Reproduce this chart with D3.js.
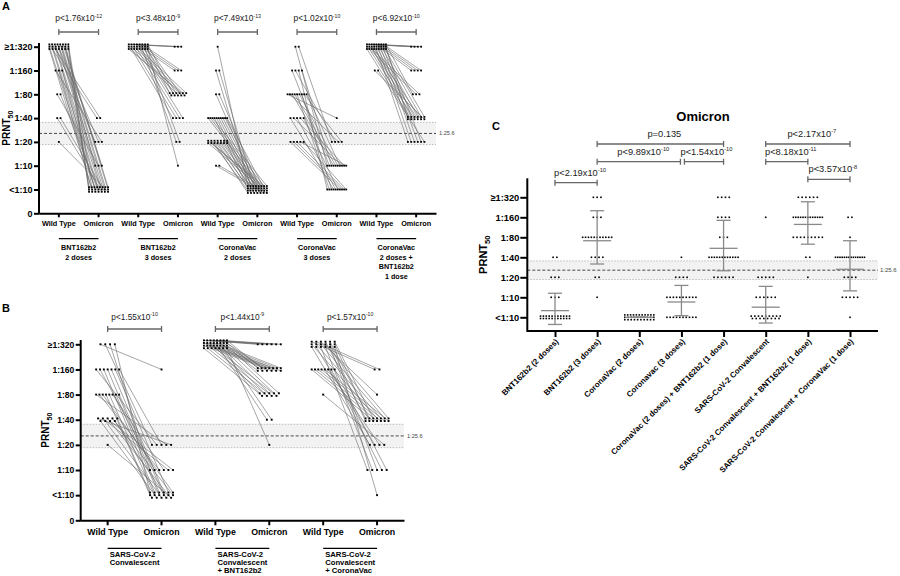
<!DOCTYPE html>
<html><head><meta charset="utf-8">
<script src="https://cdn.jsdelivr.net/npm/d3@7"></script>
<style>body{margin:0;background:#fff} svg{font-family:"Liberation Sans",Arial,Helvetica,sans-serif}</style>
</head><body><svg id="c" width="900" height="576"></svg>
<script>
// ---------- DATA ----------
const levelValues = [2.5,5,10,20,40,80,160,320];
const levelLabels = ["0","<1:10","1:10","1:20","1:40","1:80","1:160","≥1:320"];
const cutoff = 25.6, cutoffLow = 18.5, cutoffHigh = 35.3;
const conditionLabels = ["Wild Type","Omicron"];

const groupsA = [["BNT162b2","2 doses"],["BNT162b2","3 doses"],["CoronaVac","2 doses"],["CoronaVac","3 doses"],["CoronaVac","2 doses +","BNT162b2","1 dose"]];
const pValuesA = [["p<1.76x10","-12"],["p<3.48x10","-9"],["p<7.49x10","-13"],["p<1.02x10","-10"],["p<6.92x10","-10"]];
const groupsB = [["SARS-CoV-2","Convalescent"],["SARS-CoV-2","Convalescent","+ BNT162b2"],["SARS-CoV-2","Convalescent","+ CoronaVac"]];
const pValuesB = [["p<1.55x10","-10"],["p<1.44x10","-9"],["p<1.57x10","-10"]];

// paired titers (subject order), wild type vs omicron
const bnt2WT = [320,320,320,320,160,320,80,320,320,320,320,320,320,320,320,320,320,320,320,320,320,320,320,320,160,160,80,40,40,20];
const bnt2Om = [40,40,20,20,20,10,10,10,5,5,5,5,5,5,5,5,5,5,5,5,5,5,5,5,5,5,5,5,5,5];
const bnt3WT = [320,320,320,320,320,320,320,320,320,320,320,320,320,320,320,320,320,320,320,320,320,320,320,320];
const bnt3Om = [320,320,320,160,160,160,80,80,80,80,80,80,80,80,80,80,80,40,40,40,40,20,20,10];
const cv2WT = [320,160,160,80,80,40,40,40,40,40,40,40,40,40,40,20,20,20,20,20,20,20,20,20,20,20,20,20,20,10,10];
const cv2Om = [5,5,5,5,5,5,5,5,5,5,5,5,5,5,5,5,5,5,5,5,5,5,5,5,5,5,5,5,5,5,5];
const cv3WT = [320,320,160,160,160,160,80,80,80,80,80,80,80,80,80,40,40,40,40,40,20,20,20,20,20];
const cv3Om = [10,20,10,20,5,10,40,20,10,10,5,10,5,20,10,5,10,5,10,5,5,5,5,10,5];
const cvBntWT = [320,320,320,320,320,320,320,320,320,320,320,320,320,320,320,320,320,320,320,320,320,320,160,320,320,320,320,320,160];
const cvBntOm = [320,320,320,320,160,160,160,160,80,80,80,40,40,40,40,40,40,40,40,40,40,40,40,20,20,20,20,20,20];
const convWT = [320,320,320,320,160,160,160,160,160,160,160,80,80,80,80,80,80,80,80,40,40,40,40,40,40,40,40,40,20];
const convOm = [160,20,10,5,20,10,5,5,5,5,20,20,10,5,5,5,10,5,5,20,10,5,5,5,5,5,10,5,5];
const convBntWT = [320,320,320,320,320,320,320,320,320,320,320,320,320,320,320,320,320,320,320,320,320,320,320,320,320,320,320,320,320,320,320];
const convBntOm = [320,320,320,320,320,320,160,160,160,160,160,160,160,160,160,160,160,160,160,80,80,80,80,80,80,80,80,80,40,40,20];
const convCvWT = [320,320,320,320,320,320,320,320,320,320,320,320,320,320,320,320,320,320,160,160,160,160,160,160,160,160,80];
const convCvOm = [160,160,80,40,40,40,40,40,40,40,40,40,20,20,10,10,10,5,40,40,40,40,40,20,10,10,20];

// Panel C
const categoriesC = ["BNT162b2 (2 doses)","BNT162b2 (3 doses)","CoronaVac (2 doses)","Coronavac (3 doses)","CoronaVac (2 doses) + BNT162b2 (1 dose)","SARS-CoV-2 Convalescent","SARS-CoV-2 Convalescent + BNT162b2 (1 dose)","SARS-CoV-2 Convalescent + CoronaVac (1 dose)"];
const meanC = [6.3,71,5,8.5,54.6,7.1,125,26.4];
const lowC  = [3.9,31.7,5,5.3,25.1,4.1,63,12.5];
const highC = [11.5,201,5,15.1,144,14.6,274,71];
const compFromC = [0,1,3,1,5,5,6];
const compToC   = [1,3,4,4,7,6,7];
const compTextC = [["p<2.19x10","-10"],["p<9.89x10","-10"],["p<1.54x10","-10"],["p=0.135",""],["p<2.17x10","-7"],["p<8.18x10","-11"],["p<3.57x10","-8"]];

// ---------- DRAWING ----------
const svg = d3.select("#c");
const FONT = '"Liberation Sans",Arial,sans-serif';

function layoutDots(values, cx, y, o){
  const idx = values.map((v,i)=>({v,i}));
  const grp = d3.group(idx, d=>d.v);
  const pos = new Array(values.length);
  for (const [v, arr] of grp){
    const n = arr.length;
    const rows = Math.ceil(n/o.perRow);
    const base = Math.floor(n/rows), extra = n%rows;
    let k = 0;
    for (let r=0;r<rows;r++){
      const cnt = base + (r<extra?1:0);
      const s = cnt>1 ? Math.min(o.sp, o.maxW/(cnt-1)) : 0;
      const yy = y(v) + (r-(rows-1)/2)*o.rowGap;
      for (let j=0;j<cnt;j++){ pos[arr[k].i] = [cx + (j-(cnt-1)/2)*s, yy]; k++; }
    }
  }
  return pos;
}

function pText(g, x, y, parts, size, anchor){
  const t = g.append("text").attr("x",x).attr("y",y).attr("font-size",size).attr("text-anchor",anchor||"middle").attr("fill","#222");
  t.append("tspan").text(parts[0]);
  if (parts[1]) t.append("tspan").attr("dy",-size*0.4).attr("font-size",size*0.62).text(parts[1]);
  return t;
}

function bracket(g, x1, x2, y){
  g.append("line").attr("x1",x1).attr("x2",x2).attr("y1",y).attr("y2",y).attr("stroke","#666").attr("stroke-width",1.3);
  [x1,x2].forEach(x=>g.append("line").attr("x1",x).attr("x2",x).attr("y1",y-3).attr("y2",y+3).attr("stroke","#666").attr("stroke-width",1.3));
}

function cutoffBand(g, x0, x1, y, labelX, labelSize){
  g.append("rect").attr("x",x0).attr("width",x1-x0).attr("y",y(cutoffHigh)).attr("height",y(cutoffLow)-y(cutoffHigh)).attr("fill","#f2f2f2");
  [cutoffHigh,cutoffLow].forEach(v=>g.append("line").attr("x1",x0).attr("x2",x1).attr("y1",y(v)).attr("y2",y(v))
      .attr("stroke","#aaa").attr("stroke-width",0.8).attr("stroke-dasharray","1.5,1.5"));
  g.append("line").attr("x1",x0).attr("x2",x1).attr("y1",y(cutoff)).attr("y2",y(cutoff))
      .attr("stroke","#333").attr("stroke-width",0.9).attr("stroke-dasharray","3,2");
  g.append("text").attr("x",labelX).attr("y",y(cutoff)).attr("dy","0.35em").attr("font-size",labelSize).attr("fill","#444").text("1:25.6");
}

function prntLabel(g, x, y, size){
  const t = g.append("text").attr("transform",`translate(${x},${y}) rotate(-90)`).attr("text-anchor","middle")
    .attr("font-size",size).attr("font-weight","bold");
  t.append("tspan").text("PRNT");
  t.append("tspan").attr("dy",size*0.3).attr("font-size",size*0.7).text("50");
}

function drawPaired(o){
  const g = svg.append("g");
  const nCat = o.wt.length*2;
  const x = d3.scaleBand().domain(d3.range(nCat)).range(o.xr);
  const cx = i => x(i) + x.bandwidth()/2;
  const y = d3.scaleLog().base(2).domain([2.5,320]).range(o.yr);
  cutoffBand(g, o.xr[0], o.xr[1], y, o.xr[1]+3, 5.6);
  o.wt.forEach((wt,k)=>{
    const om = o.om[k];
    const pw = layoutDots(wt, cx(2*k), y, o.dot);
    const po = layoutDots(om, cx(2*k+1), y, o.dot);
    g.append("g").selectAll("line").data(d3.range(wt.length)).join("line")
      .attr("x1",i=>pw[i][0]).attr("y1",i=>pw[i][1]).attr("x2",i=>po[i][0]).attr("y2",i=>po[i][1])
      .attr("stroke","#6a6a6a").attr("stroke-width",0.6);
    g.append("g").selectAll("rect").data(pw.concat(po)).join("rect")
      .attr("x",d=>d[0]-o.dot.r).attr("y",d=>d[1]-o.dot.r).attr("width",o.dot.r*2).attr("height",o.dot.r*2).attr("fill","#000");
    bracket(g, cx(2*k), cx(2*k+1), o.bracketY);
    pText(g, (cx(2*k)+cx(2*k+1))/2, o.pY, o.p[k], o.pSize);
    g.append("line").attr("x1",cx(2*k)).attr("x2",cx(2*k+1)).attr("y1",o.groupLineY).attr("y2",o.groupLineY).attr("stroke","#000").attr("stroke-width",1.2);
    o.groups[k].forEach((s,j)=>{
      g.append("text").attr("x",o.groupLeft ? cx(2*k)+2 : (cx(2*k)+cx(2*k+1))/2).attr("y",o.groupY + j*o.groupLH)
        .attr("text-anchor",o.groupLeft?"start":"middle").attr("font-size",o.groupSize).attr("font-weight","bold").attr("xml:space","preserve").text(s);
    });
  });
  const ax = g.append("g").attr("transform",`translate(0,${o.yr[0]})`)
    .call(d3.axisBottom(x).tickSize(o.xTick).tickSizeOuter(0).tickPadding(o.xPad).tickFormat(i=>conditionLabels[i%2]));
  ax.select(".domain").attr("stroke-width",2);
  ax.selectAll(".tick line").attr("stroke-width",2);
  ax.selectAll("text").attr("font-size",o.xSize).attr("font-weight","bold").attr("font-family",FONT);
  const ay = g.append("g").attr("transform",`translate(${o.xr[0]},0)`)
    .call(d3.axisLeft(y).tickValues(levelValues).tickSize(5).tickPadding(1.5).tickFormat((d,i)=>levelLabels[i]));
  ay.select(".domain").remove();
  ay.selectAll(".tick line").attr("stroke-width",2);
  ay.selectAll("text").attr("font-size",o.ySize).attr("font-weight","bold").attr("font-family",FONT);
  g.append("line").attr("x1",o.xr[0]).attr("x2",o.xr[0]).attr("y1",o.yTop).attr("y2",o.yr[0]+1).attr("stroke","#000").attr("stroke-width",2);
  prntLabel(g, o.prntX, (o.yTop+o.yr[0])/2, 10);
}

// Panel A
drawPaired({
  wt:[bnt2WT,bnt3WT,cv2WT,cv3WT,cvBntWT], om:[bnt2Om,bnt3Om,cv2Om,cv3Om,cvBntOm],
  xr:[39,436], yr:[213.3,46.7], yTop:43,
  dot:{sp:3.3, perRow:10, maxW:19, rowGap:2.3, r:0.9},
  p:pValuesA, pY:21, pSize:8.4, bracketY:32,
  groups:groupsA, groupLineY:238.7, groupY:250, groupLH:9.6, groupSize:7.2, groupLeft:false,
  xTick:4, xPad:3.5, xSize:7.3, ySize:9, prntX:10
});
// Panel B
drawPaired({
  wt:[convWT,convBntWT,convCvWT], om:[convOm,convBntOm,convCvOm],
  xr:[80.7,404], yr:[520.3,344.3], yTop:340,
  dot:{sp:4.8, perRow:8, maxW:23, rowGap:2.6, r:0.95},
  p:pValuesB, pY:319.5, pSize:8.3, bracketY:329,
  groups:groupsB, groupLineY:548.3, groupY:556.5, groupLH:8.4, groupSize:7.7, groupLeft:true,
  xTick:5, xPad:3.5, xSize:8.8, ySize:8.5, prntX:49
});

// Panel C
(function(){
  const g = svg.append("g");
  const x = d3.scalePoint().domain(d3.range(categoriesC.length)).range([555,850]);
  const y = d3.scaleLog().base(2).domain([5,320]).range([317.3,197.3]);
  const x0 = 527.3, x1 = 878, yBase = 331, yTop = 178.3;
  cutoffBand(g, x0, x1, y, x1+2, 6);
  const omC = [bnt2Om,bnt3Om,cv2Om,cv3Om,cvBntOm,convOm,convBntOm,convCvOm];
  omC.forEach((vals,k)=>{
    const p = layoutDots(vals, x(k), y, {sp:3.8, perRow:14, maxW:29, rowGap:2.4});
    g.append("g").selectAll("rect").data(p).join("rect")
      .attr("x",d=>d[0]-0.8).attr("y",d=>d[1]-0.8).attr("width",1.6).attr("height",1.6).attr("fill","#000");
  });
  const eg = g.append("g").attr("stroke","#8a8a8a").attr("stroke-width",1.3);
  categoriesC.forEach((c,k)=>{
    eg.append("line").attr("x1",x(k)).attr("x2",x(k)).attr("y1",y(highC[k])).attr("y2",y(lowC[k]));
    eg.append("line").attr("x1",x(k)-14).attr("x2",x(k)+14).attr("y1",y(meanC[k])).attr("y2",y(meanC[k]));
    [highC[k],lowC[k]].forEach(v=>eg.append("line").attr("x1",x(k)-7).attr("x2",x(k)+7).attr("y1",y(v)).attr("y2",y(v)));
  });
  g.append("line").attr("x1",x0).attr("x2",x1).attr("y1",yBase).attr("y2",yBase).attr("stroke","#000").attr("stroke-width",2);
  g.append("line").attr("x1",x0).attr("x2",x0).attr("y1",yTop).attr("y2",yBase+1).attr("stroke","#000").attr("stroke-width",2);
  const ax = g.append("g").attr("transform",`translate(0,${yBase})`).call(d3.axisBottom(x).tickSize(6).tickSizeOuter(0).tickFormat(""));
  ax.select(".domain").remove();
  ax.selectAll(".tick line").attr("stroke-width",2);
  categoriesC.forEach((c,k)=>{
    g.append("text").attr("transform",`translate(${x(k)+4},${yBase+11}) rotate(-45)`).attr("text-anchor","end")
      .attr("font-size",8).attr("font-weight","bold").attr("fill","#000").text(c);
  });
  const ay = g.append("g").attr("transform",`translate(${x0},0)`)
    .call(d3.axisLeft(y).tickValues(levelValues.slice(1)).tickSize(7).tickPadding(1).tickFormat((d,i)=>levelLabels[i+1]));
  ay.select(".domain").remove();
  ay.selectAll(".tick line").attr("stroke-width",2);
  ay.selectAll("text").attr("font-size",9.3).attr("font-weight","bold").attr("font-family",FONT);
  prntLabel(g, 487, (yTop+yBase)/2, 11);
  g.append("text").attr("x",703).attr("y",121).attr("text-anchor","middle").attr("font-size",13).attr("font-weight","bold").text("Omicron");
  const tierY = [182.7,161.7,161.7,144,144,161.7,179.3];
  compFromC.forEach((f,k)=>{
    const a = x(f), b = x(compToC[k]);
    bracket(g, (k===2)?a+3:a, (k===1)?b-1:b, tierY[k]);
    pText(g, (a+b)/2 + 4, tierY[k]-7, compTextC[k], 9.3);
  });
})();

svg.append("text").attr("x",2).attr("y",10).attr("font-size",11).attr("font-weight","bold").text("A");
svg.append("text").attr("x",2).attr("y",312).attr("font-size",11).attr("font-weight","bold").text("B");
svg.append("text").attr("x",492).attr("y",130).attr("font-size",11).attr("font-weight","bold").text("C");
</script></body></html>
